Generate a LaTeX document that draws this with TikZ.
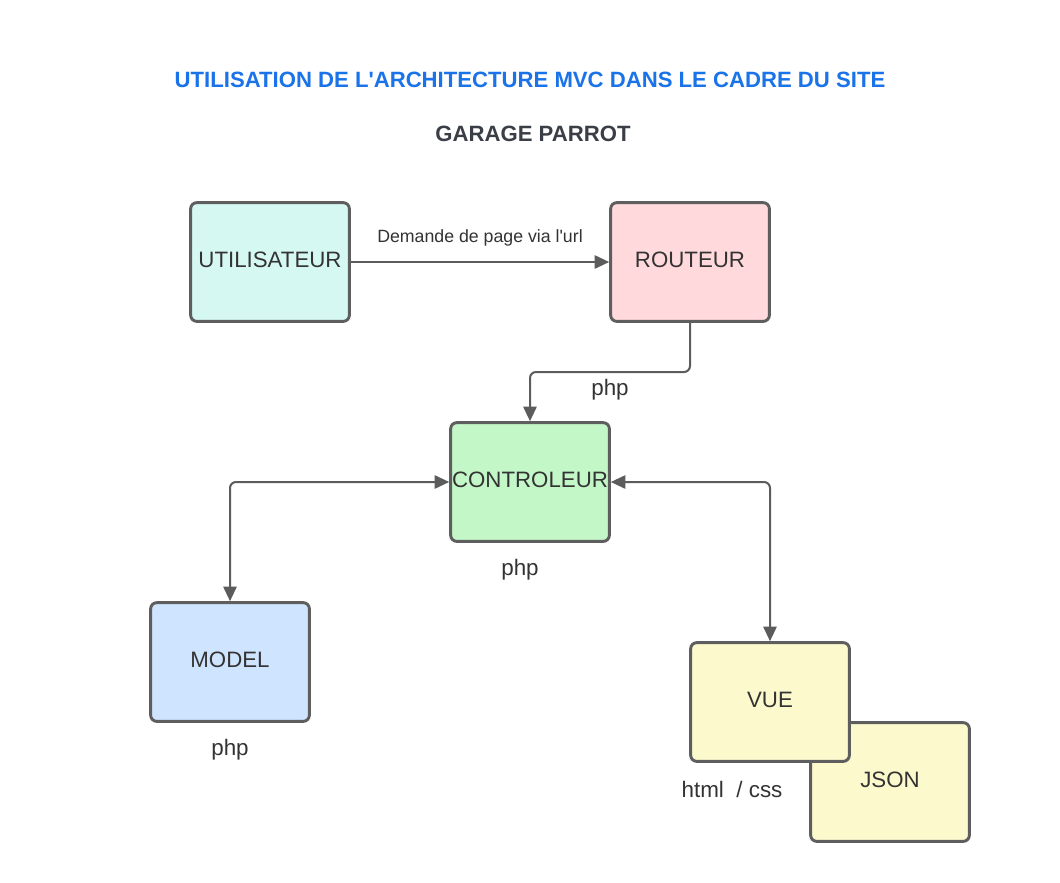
\documentclass[tikz,border=0pt]{standalone}
\usepackage{fontspec}
\setmainfont{Liberation Sans}
\usetikzlibrary{arrows.meta}
\definecolor{bordc}{HTML}{5E5E5E}
\definecolor{linec}{HTML}{5C5C5C}
\definecolor{txtc}{HTML}{333333}
\definecolor{titleblue}{HTML}{1A73E8}
\definecolor{titlegray}{HTML}{3A3F47}
\definecolor{cutil}{HTML}{D6F8F3}
\definecolor{crout}{HTML}{FFD9DB}
\definecolor{cctrl}{HTML}{C3F7C8}
\definecolor{cmodel}{HTML}{CFE4FF}
\definecolor{cvue}{HTML}{FCFACC}
\begin{document}
\begin{tikzpicture}[x=0.75pt,y=-0.75pt,
  box/.style={draw=bordc,line width=2.2pt,rounded corners=4.5pt,minimum width=119pt,minimum height=89pt,inner sep=0pt,text depth=3.5pt,font=\fontsize{16.7}{19}\selectfont,text=txtc},
  conn/.style={draw=linec,line width=1.5pt,rounded corners=4.5pt,-{Triangle[length=11pt,width=10pt]}},
  biconn/.style={draw=linec,line width=1.5pt,rounded corners=4.5pt,{Triangle[length=11pt,width=10pt]}-{Triangle[length=11pt,width=10pt]}},
  lbl/.style={font=\fontsize{16.8}{19}\selectfont,text=txtc,inner sep=0pt},
  slbl/.style={font=\fontsize{13.3}{15}\selectfont,text=txtc,inner sep=0pt}]
\useasboundingbox (0,0) rectangle (1060,882);
\fill[white] (0,0) rectangle (1060,882);
\node[font=\bfseries\fontsize{16.6}{19}\selectfont,text=titleblue] (title) at (530,80) {UTILISATION DE L\textquotesingle ARCHITECTURE MVC DANS LE CADRE DU SITE};
\node[font=\bfseries\fontsize{16.6}{19}\selectfont,text=titlegray] (sub) at (533,134) {GARAGE PARROT};
\node[box,fill=cutil] (util) at (270,262) {UTILISATEUR};
\node[box,fill=crout] (rout) at (690,262) {ROUTEUR};
\node[box,fill=cctrl] (ctrl) at (530,482) {CONTROLEUR};
\node[box,fill=cmodel] (model) at (230,662) {MODEL};
\node[box,fill=cvue] (json) at (890,782) {JSON};
\node[box,fill=cvue] (vue) at (770,702) {VUE};
\draw[conn] (util.east) -- (rout.west);
\node[slbl] (l1) at (480,238) {Demande de page via l\textquotesingle url};
\draw[conn] (rout.south) |- (530,372) -- (ctrl.north);
\node[lbl] (l2) at (610,390) {php};
\draw[biconn] (ctrl.west) -| (model.north);
\draw[biconn] (ctrl.east) -| (vue.north);
\node[lbl] (l3) at (520,570) {php};
\node[lbl] (l4) at (230,750) {php};
\node[lbl] (l5) at (732,789) {html\ \ / css};
\end{tikzpicture}
\end{document}
